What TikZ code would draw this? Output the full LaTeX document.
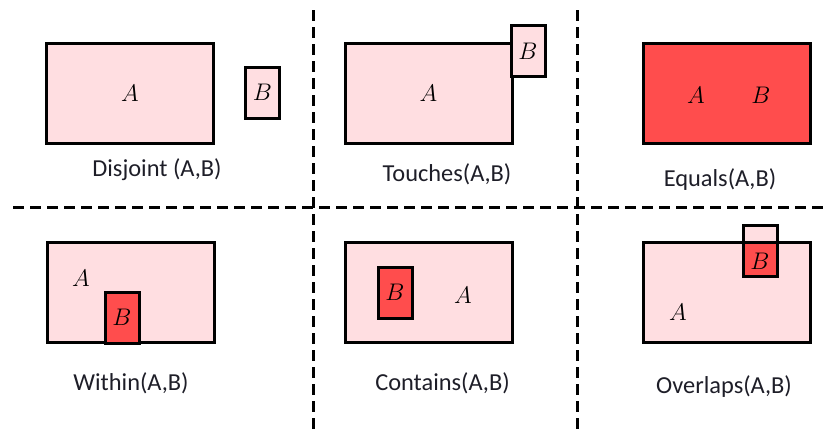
\documentclass[tikz,border=0pt]{standalone}
\usepackage{fontspec}
\setsansfont{Carlito}
\usepackage{xcolor}
\usetikzlibrary{calc}
\definecolor{soft}{RGB}{255,222,225}
\definecolor{hot}{RGB}{255,77,77}
\definecolor{ink}{RGB}{30,30,40}

\begin{document}
\begin{tikzpicture}[x=0.5pt, y=-0.5pt,
	big/.style={draw, line width=1.5pt, minimum width=83.5pt, minimum height=50pt, inner sep=0pt, outer sep=0pt},
	small/.style={draw, line width=1.5pt, minimum width=17pt, minimum height=25.5pt, inner sep=0pt, outer sep=0pt},
	frame/.style={line width=1.5pt},
	sep/.style={line width=1.5pt, dash pattern=on 5.5pt off 3pt},
	caption/.style={font=\sffamily\fontsize{12.2}{14}\selectfont, text=ink},
	letter/.style={font=\fontsize{13}{15}\selectfont}]
	\useasboundingbox (0,0) rectangle (827,434);
	\coordinate (t1) at (313,10);
	\coordinate (b1) at (313,434);
	\coordinate (t2) at (577,10);
	\coordinate (b2) at (577,434);
	\coordinate (l) at (13,207);
	\coordinate (r) at (827,207);
	\draw[sep] (t1) -- (b1);
	\draw[sep] (t2) -- (b2);
	\draw[sep] (l) -- (r);

	\node (dA) [big, fill=soft, letter] at (130,93) {$A$};
	\node (dB) [small, fill=soft, letter] at (262.5,92.5) {$B$};
	\node (dn) [caption] at (157,170) {Disjoint (A,B)};

	\node (tA) [big, fill=soft, letter] at (428.5,93) {$A$};
	\node (tB) [small, fill=soft, letter] at (528,51) {$B$};
	\node (tn) [caption] at (447,174) {Touches(A,B)};

	\node (eAB) [big, fill=hot] at (727,93) {};
	\node (eA) [letter] at (696,95) {$A$};
	\node (eB) [letter] at (761,95) {$B$};
	\node (en) [caption] at (720,180) {Equals(A,B)};

	\node (wA) [big, fill=soft] at (130.5,292.5) {};
	\node (wB) [small, fill=hot, letter] at (122,317.5) {$B$};
	\node (wa) [letter] at (81,278) {$A$};
	\node (wn) [caption] at (131,383) {Within(A,B)};

	\node (cA) [big, fill=soft] at (428.5,292.5) {};
	\node (cB) [small, fill=hot, letter] at (395,292.5) {$B$};
	\node (ca) [letter] at (463,295) {$A$};
	\node (cn) [caption] at (442.5,383) {Contains(A,B)};

	\node (oB) [small, fill=soft] at (760,250.5) {};
	\node (oA) [big, fill=soft] at (727,292.5) {};
	\fill[hot] (oB.south west) rectangle (oB.east |- oA.north);
	\draw[frame] (oA.south west) rectangle (oA.north east);
	\draw[frame] (oB.south west) rectangle (oB.north east);
	\node (ob) [letter] at (760,261) {$B$};
	\node (oa) [letter] at (678,312) {$A$};
	\node (on) [caption] at (724,387) {Overlaps(A,B)};
\end{tikzpicture}
\end{document}
